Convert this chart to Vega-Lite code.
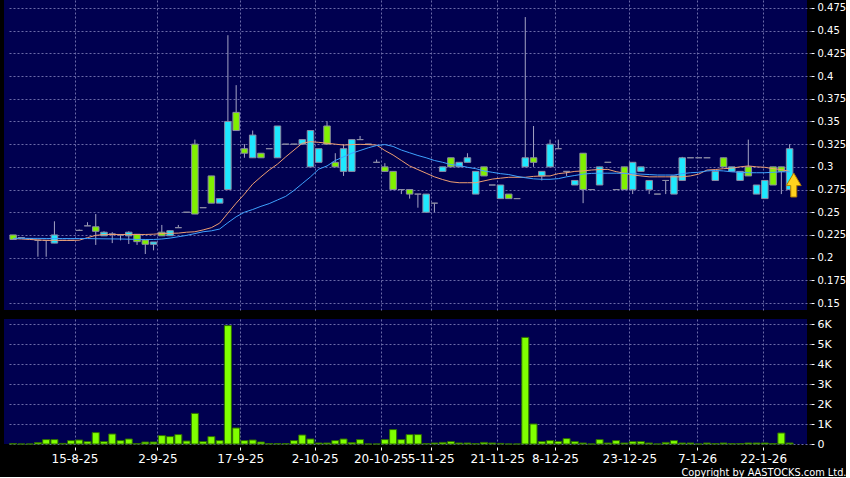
{
  "$schema": "https://vega.github.io/schema/vega-lite/v6.json",
  "background": "#000000",
  "padding": {"left": 4, "top": 0, "right": 0, "bottom": 0},
  "spacing": 8,
  "config": {
    "view": {"fill": "#000050", "stroke": null},
    "axis": {"labelFont": "DejaVu Sans", "titleFont": "DejaVu Sans", "labelColor": "#ffffff", "tickColor": "#ffffff", "titleColor": "#ffffff", "domain": false, "gridColor": "#6a6aa8", "gridDash": [2, 2], "gridWidth": 1, "gridOpacity": 1},
    "axisY": {"orient": "right", "labelOverlap": false, "tickSize": 3, "offset": 4, "labelPadding": 3, "grid": true, "title": null}
  },
  "datasets": {
    "k": [
      {"i":0,"o":0.22,"h":0.225,"l":0.22,"c":0.225,"v":0.02,"m1":0.221,"m2":0.2213},
      {"i":1,"o":0.222,"h":0.222,"l":0.222,"c":0.222,"v":0,"m1":0.2205,"m2":0.2213},
      {"i":2,"o":0.221,"h":0.221,"l":0.221,"c":0.221,"v":0,"m1":0.22,"m2":0.2212},
      {"i":3,"o":0.219,"h":0.219,"l":0.201,"c":0.219,"v":0.07,"m1":0.2195,"m2":0.2212},
      {"i":4,"o":0.219,"h":0.219,"l":0.201,"c":0.219,"v":0.22,"m1":0.219,"m2":0.2211},
      {"i":5,"o":0.225,"h":0.24,"l":0.216,"c":0.216,"v":0.22,"m1":0.219,"m2":0.2211},
      {"i":6,"o":0.219,"h":0.219,"l":0.219,"c":0.219,"v":0.03,"m1":0.219,"m2":0.221},
      {"i":7,"o":0.219,"h":0.219,"l":0.219,"c":0.219,"v":0.17,"m1":0.219,"m2":0.221},
      {"i":8,"o":0.23,"h":0.231,"l":0.23,"c":0.23,"v":0.2,"m1":0.2192,"m2":0.221},
      {"i":9,"o":0.235,"h":0.239,"l":0.235,"c":0.235,"v":0.12,"m1":0.222,"m2":0.221},
      {"i":10,"o":0.229,"h":0.248,"l":0.214,"c":0.234,"v":0.57,"m1":0.2245,"m2":0.2208},
      {"i":11,"o":0.228,"h":0.229,"l":0.224,"c":0.224,"v":0.12,"m1":0.2255,"m2":0.2207},
      {"i":12,"o":0.226,"h":0.228,"l":0.216,"c":0.226,"v":0.5,"m1":0.2255,"m2":0.2206},
      {"i":13,"o":0.225,"h":0.226,"l":0.219,"c":0.225,"v":0.17,"m1":0.2255,"m2":0.2205},
      {"i":14,"o":0.228,"h":0.229,"l":0.215,"c":0.224,"v":0.25,"m1":0.2255,"m2":0.2203},
      {"i":15,"o":0.2176,"h":0.2257,"l":0.214,"c":0.2257,"v":0.02,"m1":0.2255,"m2":0.2201},
      {"i":16,"o":0.2147,"h":0.2194,"l":0.204,"c":0.2194,"v":0.1,"m1":0.2255,"m2":0.22},
      {"i":17,"o":0.2172,"h":0.2172,"l":0.208,"c":0.2147,"v":0.1,"m1":0.2258,"m2":0.22},
      {"i":18,"o":0.224,"h":0.236,"l":0.224,"c":0.228,"v":0.42,"m1":0.2265,"m2":0.2205},
      {"i":19,"o":0.2297,"h":0.2297,"l":0.2241,"c":0.2241,"v":0.37,"m1":0.2268,"m2":0.2215},
      {"i":20,"o":0.233,"h":0.236,"l":0.233,"c":0.233,"v":0.47,"m1":0.227,"m2":0.223},
      {"i":21,"o":0.25,"h":0.25,"l":0.25,"c":0.25,"v":0.15,"m1":0.228,"m2":0.2245},
      {"i":22,"o":0.248,"h":0.33,"l":0.248,"c":0.325,"v":1.53,"m1":0.2285,"m2":0.2265},
      {"i":23,"o":0.255,"h":0.255,"l":0.255,"c":0.255,"v":0.12,"m1":0.2305,"m2":0.2285},
      {"i":24,"o":0.26,"h":0.29,"l":0.26,"c":0.29,"v":0.37,"m1":0.233,"m2":0.2295},
      {"i":25,"o":0.265,"h":0.265,"l":0.26,"c":0.26,"v":0.17,"m1":0.238,"m2":0.2315},
      {"i":26,"o":0.35,"h":0.445,"l":0.275,"c":0.275,"v":5.92,"m1":0.249,"m2":0.2385},
      {"i":27,"o":0.34,"h":0.39,"l":0.34,"c":0.36,"v":0.8,"m1":0.26,"m2":0.245},
      {"i":28,"o":0.315,"h":0.325,"l":0.31,"c":0.32,"v":0.17,"m1":0.27,"m2":0.25},
      {"i":29,"o":0.335,"h":0.34,"l":0.31,"c":0.31,"v":0.2,"m1":0.281,"m2":0.253},
      {"i":30,"o":0.31,"h":0.315,"l":0.31,"c":0.315,"v":0.1,"m1":0.289,"m2":0.2565},
      {"i":31,"o":0.32,"h":0.32,"l":0.32,"c":0.32,"v":0.02,"m1":0.2965,"m2":0.2595},
      {"i":32,"o":0.345,"h":0.345,"l":0.31,"c":0.31,"v":0.02,"m1":0.303,"m2":0.2635},
      {"i":33,"o":0.325,"h":0.325,"l":0.325,"c":0.325,"v":0.02,"m1":0.311,"m2":0.2675},
      {"i":34,"o":0.325,"h":0.325,"l":0.325,"c":0.325,"v":0.17,"m1":0.3185,"m2":0.274},
      {"i":35,"o":0.33,"h":0.33,"l":0.325,"c":0.325,"v":0.45,"m1":0.326,"m2":0.2815},
      {"i":36,"o":0.34,"h":0.34,"l":0.3,"c":0.3,"v":0.25,"m1":0.3277,"m2":0.289},
      {"i":37,"o":0.32,"h":0.32,"l":0.305,"c":0.305,"v":0.05,"m1":0.327,"m2":0.2975},
      {"i":38,"o":0.325,"h":0.35,"l":0.325,"c":0.345,"v":0.05,"m1":0.326,"m2":0.301},
      {"i":39,"o":0.3,"h":0.315,"l":0.3,"c":0.305,"v":0.17,"m1":0.325,"m2":0.307},
      {"i":40,"o":0.32,"h":0.325,"l":0.29,"c":0.295,"v":0.25,"m1":0.324,"m2":0.311},
      {"i":41,"o":0.33,"h":0.33,"l":0.295,"c":0.295,"v":0.07,"m1":0.3245,"m2":0.315},
      {"i":42,"o":0.33,"h":0.334,"l":0.33,"c":0.33,"v":0.22,"m1":0.3248,"m2":0.318},
      {"i":43,"o":0.325,"h":0.325,"l":0.325,"c":0.325,"v":0,"m1":0.3245,"m2":0.321},
      {"i":44,"o":0.305,"h":0.308,"l":0.305,"c":0.305,"v":0,"m1":0.324,"m2":0.3235},
      {"i":45,"o":0.295,"h":0.304,"l":0.295,"c":0.3,"v":0.22,"m1":0.318,"m2":0.3245},
      {"i":46,"o":0.275,"h":0.295,"l":0.275,"c":0.295,"v":0.72,"m1":0.313,"m2":0.3225},
      {"i":47,"o":0.275,"h":0.275,"l":0.27,"c":0.275,"v":0.22,"m1":0.307,"m2":0.3185},
      {"i":48,"o":0.27,"h":0.275,"l":0.265,"c":0.275,"v":0.47,"m1":0.301,"m2":0.3155},
      {"i":49,"o":0.27,"h":0.27,"l":0.255,"c":0.27,"v":0.47,"m1":0.297,"m2":0.3125},
      {"i":50,"o":0.27,"h":0.27,"l":0.25,"c":0.25,"v":0.02,"m1":0.293,"m2":0.31},
      {"i":51,"o":0.26,"h":0.26,"l":0.25,"c":0.26,"v":0.05,"m1":0.289,"m2":0.307},
      {"i":52,"o":0.3,"h":0.3,"l":0.295,"c":0.295,"v":0.08,"m1":0.286,"m2":0.305},
      {"i":53,"o":0.3,"h":0.31,"l":0.3,"c":0.31,"v":0.12,"m1":0.2835,"m2":0.3025},
      {"i":54,"o":0.305,"h":0.305,"l":0.3,"c":0.3,"v":0.05,"m1":0.2825,"m2":0.3015},
      {"i":55,"o":0.31,"h":0.315,"l":0.305,"c":0.305,"v":0.05,"m1":0.2825,"m2":0.2995},
      {"i":56,"o":0.295,"h":0.295,"l":0.27,"c":0.27,"v":0.02,"m1":0.2825,"m2":0.298},
      {"i":57,"o":0.29,"h":0.3,"l":0.29,"c":0.3,"v":0.08,"m1":0.2845,"m2":0.2955},
      {"i":58,"o":0.28,"h":0.28,"l":0.28,"c":0.28,"v":0.05,"m1":0.2865,"m2":0.294},
      {"i":59,"o":0.28,"h":0.28,"l":0.265,"c":0.265,"v":0.03,"m1":0.2875,"m2":0.2925},
      {"i":60,"o":0.265,"h":0.27,"l":0.265,"c":0.27,"v":0,"m1":0.2885,"m2":0.2915},
      {"i":61,"o":0.265,"h":0.265,"l":0.265,"c":0.265,"v":0,"m1":0.2885,"m2":0.2895},
      {"i":62,"o":0.31,"h":0.465,"l":0.3,"c":0.3,"v":5.33,"m1":0.2885,"m2":0.288},
      {"i":63,"o":0.305,"h":0.345,"l":0.3,"c":0.31,"v":1.0,"m1":0.2895,"m2":0.2868},
      {"i":64,"o":0.295,"h":0.295,"l":0.285,"c":0.29,"v":0.12,"m1":0.29,"m2":0.2863},
      {"i":65,"o":0.325,"h":0.33,"l":0.3,"c":0.3,"v":0.17,"m1":0.29,"m2":0.2863},
      {"i":66,"o":0.32,"h":0.33,"l":0.32,"c":0.32,"v":0.13,"m1":0.2925,"m2":0.287},
      {"i":67,"o":0.295,"h":0.295,"l":0.29,"c":0.295,"v":0.27,"m1":0.2935,"m2":0.289},
      {"i":68,"o":0.285,"h":0.285,"l":0.28,"c":0.28,"v":0.12,"m1":0.295,"m2":0.2905},
      {"i":69,"o":0.275,"h":0.315,"l":0.26,"c":0.315,"v":0.05,"m1":0.2955,"m2":0.292},
      {"i":70,"o":0.275,"h":0.275,"l":0.275,"c":0.275,"v":0,"m1":0.2965,"m2":0.2928},
      {"i":71,"o":0.3,"h":0.3,"l":0.28,"c":0.28,"v":0.22,"m1":0.297,"m2":0.293},
      {"i":72,"o":0.305,"h":0.305,"l":0.305,"c":0.305,"v":0.05,"m1":0.2972,"m2":0.293},
      {"i":73,"o":0.275,"h":0.275,"l":0.275,"c":0.275,"v":0.17,"m1":0.2947,"m2":0.293},
      {"i":74,"o":0.275,"h":0.3,"l":0.275,"c":0.3,"v":0.05,"m1":0.293,"m2":0.2928},
      {"i":75,"o":0.305,"h":0.305,"l":0.27,"c":0.275,"v":0.12,"m1":0.291,"m2":0.2925},
      {"i":76,"o":0.3,"h":0.3,"l":0.295,"c":0.295,"v":0.12,"m1":0.29,"m2":0.292},
      {"i":77,"o":0.285,"h":0.285,"l":0.27,"c":0.275,"v":0.05,"m1":0.289,"m2":0.2915},
      {"i":78,"o":0.27,"h":0.27,"l":0.27,"c":0.27,"v":0,"m1":0.289,"m2":0.291},
      {"i":79,"o":0.285,"h":0.285,"l":0.27,"c":0.285,"v":0.08,"m1":0.289,"m2":0.291},
      {"i":80,"o":0.29,"h":0.29,"l":0.27,"c":0.27,"v":0.17,"m1":0.289,"m2":0.291},
      {"i":81,"o":0.31,"h":0.311,"l":0.285,"c":0.285,"v":0.05,"m1":0.289,"m2":0.2925},
      {"i":82,"o":0.31,"h":0.31,"l":0.31,"c":0.31,"v":0.05,"m1":0.29,"m2":0.2935},
      {"i":83,"o":0.31,"h":0.31,"l":0.31,"c":0.31,"v":0,"m1":0.292,"m2":0.294},
      {"i":84,"o":0.31,"h":0.31,"l":0.31,"c":0.31,"v":0.05,"m1":0.2965,"m2":0.2955},
      {"i":85,"o":0.295,"h":0.295,"l":0.285,"c":0.285,"v":0.02,"m1":0.297,"m2":0.296},
      {"i":86,"o":0.3,"h":0.31,"l":0.3,"c":0.31,"v":0.05,"m1":0.298,"m2":0.2955},
      {"i":87,"o":0.3,"h":0.3,"l":0.295,"c":0.295,"v":0.02,"m1":0.2985,"m2":0.2945},
      {"i":88,"o":0.295,"h":0.295,"l":0.285,"c":0.285,"v":0.02,"m1":0.3,"m2":0.294},
      {"i":89,"o":0.29,"h":0.33,"l":0.29,"c":0.3,"v":0.05,"m1":0.301,"m2":0.2935},
      {"i":90,"o":0.28,"h":0.28,"l":0.27,"c":0.27,"v":0.05,"m1":0.3,"m2":0.2935},
      {"i":91,"o":0.285,"h":0.285,"l":0.265,"c":0.265,"v":0.05,"m1":0.2995,"m2":0.2935},
      {"i":92,"o":0.28,"h":0.3,"l":0.28,"c":0.3,"v":0.02,"m1":0.298,"m2":0.294},
      {"i":93,"o":0.295,"h":0.3,"l":0.27,"c":0.3,"v":0.55,"m1":0.297,"m2":0.2945},
      {"i":94,"o":0.32,"h":0.325,"l":0.275,"c":0.275,"v":0.05,"m1":0.295,"m2":0.2945}
    ],
    "arrow": [{"i": 94.5, "p": 0.28}]
  },
  "vconcat": [
    {
      "width": 803,
      "height": 310,
      "data": {"name": "k"},
      "encoding": {
        "x": {"field": "i", "type": "quantitative", "scale": {"domain": [-0.5, 95.5], "nice": false, "zero": false},
              "axis": {"values": [7.43, 17.47, 27.5, 36.5, 44.5, 50.55, 58.6, 65.6, 74.6, 82.8, 90.8], "labels": false, "ticks": false, "domain": false, "grid": true, "title": null}}
      },
      "layer": [
        {
          "mark": {"type": "rule", "color": "#a4a4c4", "strokeWidth": 1},
          "encoding": {
            "y": {"field": "l", "type": "quantitative", "scale": {"domain": [0.1423, 0.4838], "nice": false, "zero": false},
                  "axis": {"values": [0.15, 0.175, 0.2, 0.225, 0.25, 0.275, 0.3, 0.325, 0.35, 0.375, 0.4, 0.425, 0.45, 0.475], "format": ".3~f", "labelFontSize": 10}},
            "y2": {"field": "h"}
          }
        },
        {
          "mark": {"type": "bar", "width": 6.5, "stroke": "#8c8ca4", "strokeWidth": 1},
          "encoding": {
            "y": {"field": "o", "type": "quantitative",
                  "axis": {"values": [0.15, 0.175, 0.2, 0.225, 0.25, 0.275, 0.3, 0.325, 0.35, 0.375, 0.4, 0.425, 0.45, 0.475], "format": ".3~f", "labelFontSize": 10}},
            "y2": {"field": "c"},
            "fill": {"condition": {"test": "datum.c > datum.o", "value": "#80f000"}, "value": "#1ee8ff"}
          }
        },
        {
          "mark": {"type": "line", "color": "#ee9e72", "strokeWidth": 1},
          "encoding": {"y": {"field": "m1", "type": "quantitative",
                  "axis": {"values": [0.15, 0.175, 0.2, 0.225, 0.25, 0.275, 0.3, 0.325, 0.35, 0.375, 0.4, 0.425, 0.45, 0.475], "format": ".3~f", "labelFontSize": 10}}}
        },
        {
          "mark": {"type": "line", "color": "#3ea2ff", "strokeWidth": 1},
          "encoding": {"y": {"field": "m2", "type": "quantitative",
                  "axis": {"values": [0.15, 0.175, 0.2, 0.225, 0.25, 0.275, 0.3, 0.325, 0.35, 0.375, 0.4, 0.425, 0.45, 0.475], "format": ".3~f", "labelFontSize": 10}}}
        },
        {
          "data": {"name": "arrow"},
          "mark": {"type": "point", "filled": true, "shape": "M-0.25,1 L0.25,1 L0.25,0.05 L0.62,0.05 L0,-1 L-0.62,0.05 L-0.25,0.05 Z", "size": 576, "fill": "#ffd21e", "stroke": "#b07a00", "strokeWidth": 1, "opacity": 1},
          "encoding": {"y": {"field": "p", "type": "quantitative",
                  "axis": {"values": [0.15, 0.175, 0.2, 0.225, 0.25, 0.275, 0.3, 0.325, 0.35, 0.375, 0.4, 0.425, 0.45, 0.475], "format": ".3~f", "labelFontSize": 10}}}
        }
      ],
      "resolve": {"scale": {"y": "shared"}}
    },
    {
      "width": 803,
      "height": 125,
      "data": {"name": "k"},
      "mark": {"type": "bar", "width": 7, "fill": "#80ff00", "stroke": "#2e6e00", "strokeWidth": 1},
      "encoding": {
        "x": {"field": "i", "type": "quantitative", "scale": {"domain": [-0.5, 95.5], "nice": false, "zero": false},
              "axis": {"values": [7.43, 17.47, 27.5, 36.5, 44.5, 50.55, 58.6, 65.6, 74.6, 82.8, 90.8],
                       "labelExpr": "datum.value < 10 ? '15-8-25' : datum.value < 20 ? '2-9-25' : datum.value < 30 ? '17-9-25' : datum.value < 40 ? '2-10-25' : datum.value < 47 ? '20-10-25' : datum.value < 55 ? '5-11-25' : datum.value < 62 ? '21-11-25' : datum.value < 70 ? '8-12-25' : datum.value < 78 ? '23-12-25' : datum.value < 86 ? '7-1-26' : '22-1-26'",
                       "labelFontSize": 12, "labelOverlap": false, "labelFlush": false, "tickSize": 3, "offset": 3, "labelPadding": 3.5, "grid": true,
                       "title": "Copyright by AASTOCKS.com Ltd.", "titleFontSize": 9.8, "titleFontWeight": "normal", "titleAlign": "right", "titleAnchor": "end", "titleX": 842, "titleY": 28, "titleBaseline": "alphabetic"}},
        "y": {"field": "v", "type": "quantitative", "scale": {"domain": [0, 6.25], "nice": false},
              "axis": {"values": [0, 1, 2, 3, 4, 5, 6], "labelExpr": "datum.value == 0 ? '0' : datum.value + 'K'", "labelFontSize": 11}}
      }
    }
  ]
}
